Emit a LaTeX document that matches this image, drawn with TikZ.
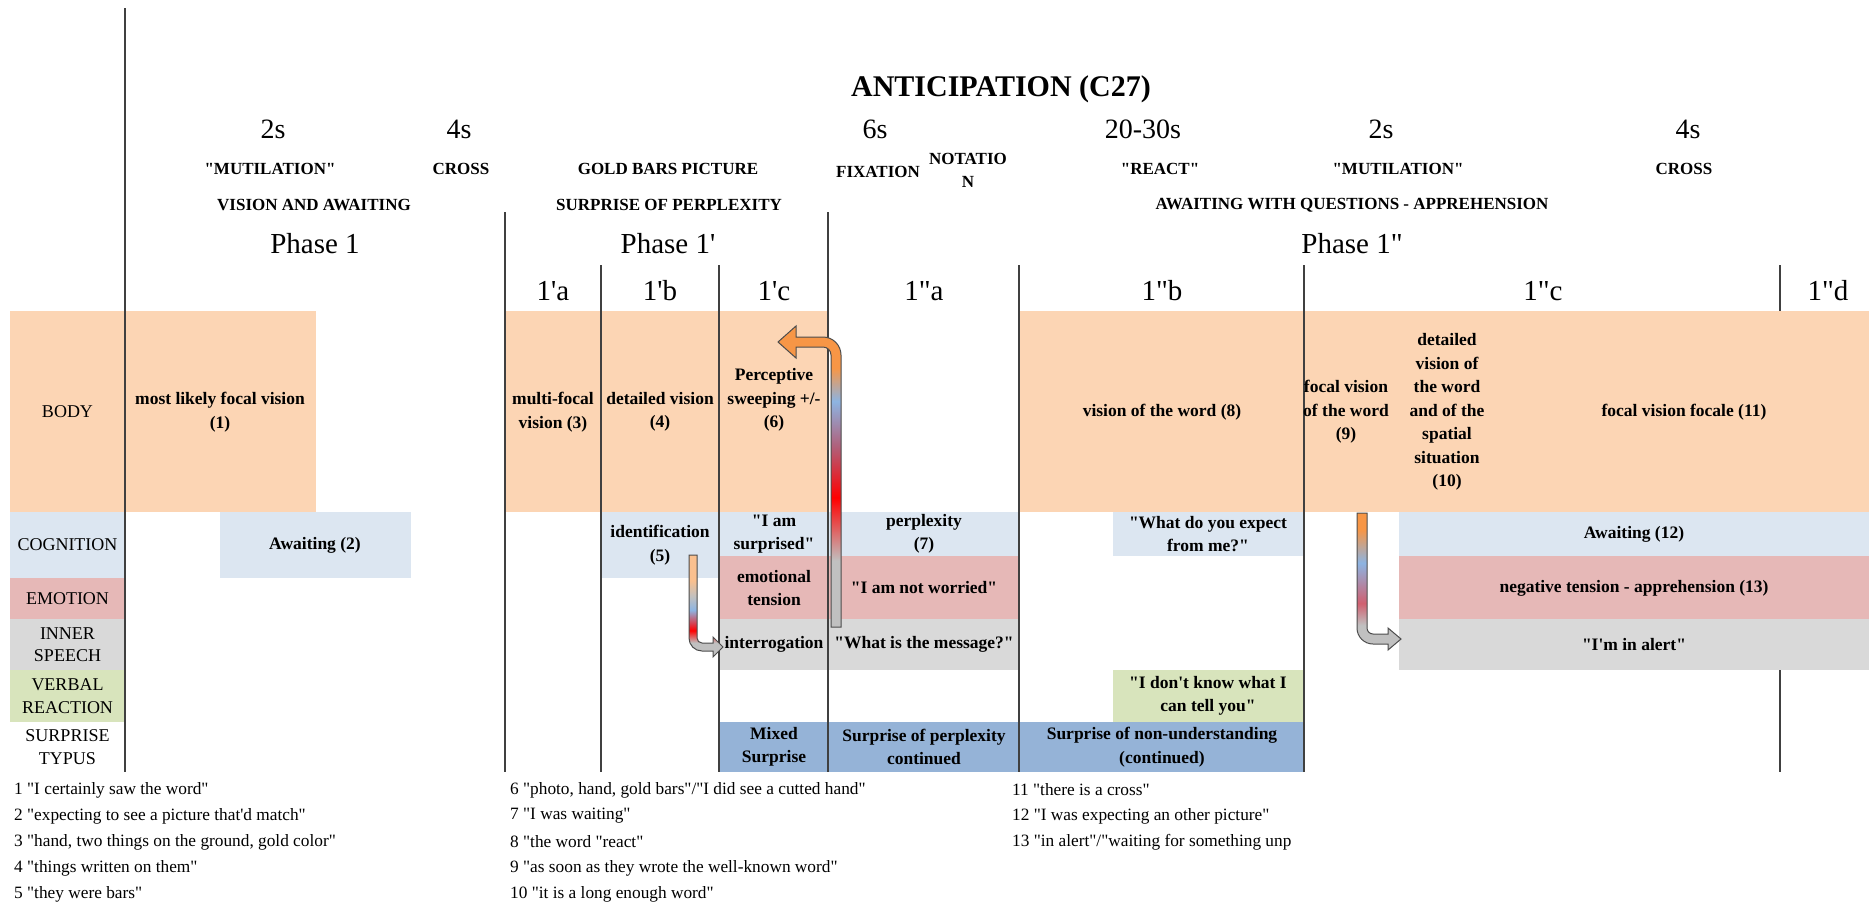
\documentclass[tikz,border=0pt]{standalone}
\usepackage{fontspec}
\setmainfont{Liberation Serif}[Ligatures=TeXOff]
\usepackage{tikz}
\usetikzlibrary{calc}
\definecolor{bodycolor}{HTML}{FCD5B4}
\definecolor{cogcolor}{HTML}{DCE6F1}
\definecolor{emocolor}{HTML}{E6B8B7}
\definecolor{speechcolor}{HTML}{D9D9D9}
\definecolor{verbcolor}{HTML}{D8E4BC}
\definecolor{typcolor}{HTML}{95B3D7}
\definecolor{gridcolor}{HTML}{404040}
\definecolor{arrorange}{HTML}{F79646}
\definecolor{arrlight}{HTML}{FAC08F}
\definecolor{arrblue}{HTML}{8DB4E2}
\definecolor{arrmauve}{HTML}{B0607A}
\definecolor{arrpink}{HTML}{D06070}
\definecolor{arrgrey}{HTML}{C0C0C0}
\pgfdeclareverticalshading{bigshaft}{100bp}{color(0bp)=(arrgrey); color(36bp)=(arrgrey); color(46.5bp)=(red); color(55bp)=(arrmauve); color(62.5bp)=(arrblue); color(68bp)=(arrorange); color(100bp)=(arrorange)}
\pgfdeclareverticalshading{smallshaft}{100bp}{color(0bp)=(arrgrey); color(32bp)=(arrgrey); color(38bp)=(red); color(48bp)=(arrblue); color(54.5bp)=(arrgrey); color(62.5bp)=(arrlight); color(100bp)=(arrlight)}
\pgfdeclareverticalshading{alertshaft}{100bp}{color(0bp)=(arrgrey); color(34bp)=(arrgrey); color(42bp)=(arrpink); color(56.75bp)=(arrblue); color(69bp)=(arrorange); color(100bp)=(arrorange)}

\begin{document}
\begin{tikzpicture}[x=1pt,y=-1pt,
    rowlabel/.style={align=center,inner sep=0pt,font=\fontsize{18}{22.5}\selectfont},
    cell/.style={align=center,inner sep=0pt,font=\bfseries\fontsize{17.5}{23.5}\selectfont},
    head/.style={align=center,inner sep=0pt,font=\bfseries\fontsize{17}{23}\selectfont},
    timelabel/.style={inner sep=0pt,font=\fontsize{28}{30}\selectfont},
    phaselabel/.style={inner sep=0pt,font=\fontsize{29}{31}\selectfont},
    note/.style={anchor=west,inner sep=0pt,font=\fontsize{17.3}{20}\selectfont},
    gridline/.style={gridcolor,line width=1.5pt},
    bentarrow/.style={draw=gray!60!black,line width=1pt}]
\useasboundingbox (0,0) rectangle (1869,906);

%% coloured cells
\fill [bodycolor] (10,311) rectangle (316,512);
\fill [bodycolor] (505,311) rectangle (828,512);
\fill [bodycolor] (1019,311) rectangle (1869,512);
\fill [cogcolor] (10,512) rectangle (125,578);
\fill [cogcolor] (220,512) rectangle (411,578);
\fill [cogcolor] (601,512) rectangle (719,578);
\fill [cogcolor] (719,512) rectangle (1019,556);
\fill [cogcolor] (1113,512) rectangle (1304,556);
\fill [cogcolor] (1399,512) rectangle (1869,556);
\fill [emocolor] (10,578) rectangle (125,619);
\fill [emocolor] (719,556) rectangle (1019,619);
\fill [emocolor] (1399,556) rectangle (1869,619);
\fill [speechcolor] (10,619) rectangle (125,670);
\fill [speechcolor] (719,619) rectangle (1019,670);
\fill [speechcolor] (1399,619) rectangle (1869,670);
\fill [verbcolor] (10,670) rectangle (125,722);
\fill [verbcolor] (1113,670) rectangle (1304,722);
\fill [typcolor] (719,722) rectangle (1304,772);

%% separators
\draw [gridline] (125,8) -- (125,772);
\foreach \x in {505,828}
    \draw [gridline] (\x,212) -- (\x,772);
\foreach \x in {601,719,1019,1304}
    \draw [gridline] (\x,265) -- (\x,772);
\draw [gridline] (1780,265) -- (1780,311);
\draw [gridline] (1780,670) -- (1780,772);

%% header
\node [inner sep=0pt,font=\bfseries\fontsize{30}{32}\selectfont] (title) at (1001,89) {ANTICIPATION (C27)};
\node [timelabel] (t1) at (273,129) {2s};
\node [timelabel] (t2) at (459,129) {4s};
\node [timelabel] (t3) at (875,129) {6s};
\node [timelabel] (t4) at (1143,129) {20-30s};
\node [timelabel] (t5) at (1381,129) {2s};
\node [timelabel] (t6) at (1688,129) {4s};
\node [head] (h1) at (270,169) {"MUTILATION"};
\node [head] (h2) at (461,169) {CROSS};
\node [head] (h3) at (668,169) {GOLD BARS PICTURE};
\node [head] (h4) at (878,172) {FIXATION};
\node [head] (h5) at (968,170) {NOTATIO\\N};
\node [head] (h6) at (1160,169) {"REACT"};
\node [head] (h7) at (1398,169) {"MUTILATION"};
\node [head] (h8) at (1684,169) {CROSS};
\node [head] (g1) at (314,205) {VISION AND AWAITING};
\node [head] (g2) at (669,205) {SURPRISE OF PERPLEXITY};
\node [head] (g3) at (1352,205) {AWAITING WITH QUESTIONS - APPREHENSION};
\node [phaselabel] (p1) at (315,244) {Phase 1};
\node [phaselabel] (p2) at (668,244) {Phase 1'};
\node [phaselabel] (p3) at (1352,244) {Phase 1"};
\node [phaselabel] (s1) at (553,291) {1'a};
\node [phaselabel] (s2) at (660,291) {1'b};
\node [phaselabel] (s3) at (774,291) {1'c};
\node [phaselabel] (s4) at (924,291) {1"a};
\node [phaselabel] (s5) at (1162,291) {1"b};
\node [phaselabel] (s6) at (1543,291) {1"c};
\node [phaselabel] (s7) at (1828,291) {1"d};

%% row labels
\node [rowlabel] (body) at (67.5,412) {BODY};
\node [rowlabel] (cognition) at (67.5,545) {COGNITION};
\node [rowlabel] (emotion) at (67.5,598.5) {EMOTION};
\node [rowlabel] (speech) at (67.5,644.5) {INNER\\SPEECH};
\node [rowlabel] (verbal) at (67.5,696) {VERBAL\\REACTION};
\node [rowlabel] (typus) at (67.5,747) {SURPRISE\\TYPUS};

%% cell texts
\node [cell] (c1) at (220,412) {most likely focal vision\\(1)};
\node [cell] (c2) at (315,545) {Awaiting (2)};
\node [cell] (c3) at (553,412) {multi-focal\\vision (3)};
\node [cell] (c4) at (660,412) {detailed vision\\(4)};
\node [cell] (c5) at (660,545) {identification\\(5)};
\node [cell] (c6) at (774,400) {Perceptive\\sweeping +/-\\(6)};
\node [cell] (surprised) at (774,534) {"I am\\surprised"};
\node [cell] (tension) at (774,588) {emotional\\tension};
\node [cell] (interrog) at (774,644.5) {interrogation};
\node [cell] (mixed) at (774,747) {Mixed\\Surprise};
\node [cell] (c7) at (924,534) {perplexity\\(7)};
\node [cell] (worried) at (924,588) {"I am not worried"};
\node [cell] (message) at (924,644.5) {"What is the message?"};
\node [cell] (perplex) at (924,747) {Surprise of perplexity\\continued};
\node [cell] (c8) at (1162,412) {vision of the word (8)};
\node [cell] (expect) at (1208,534) {"What do you expect\\from me?"};
\node [cell] (dontknow) at (1208,696) {"I don't know what I\\can tell you"};
\node [cell] (nonund) at (1162,747) {Surprise of non-understanding\\(continued)};
\node [cell] (c9) at (1346,412) {focal vision\\of the word\\(9)};
\node [cell] (c10) at (1447,412) {detailed\\vision of\\the word\\and of the\\spatial\\situation\\(10)};
\node [cell] (c11) at (1684,412) {focal vision focale (11)};
\node [cell] (c12) at (1634,534) {Awaiting (12)};
\node [cell] (c13) at (1634,588) {negative tension - apprehension (13)};
\node [cell] (alert) at (1634,644.5) {"I'm in alert"};

%% bent arrows
\shade [shading=bigshaft,bentarrow] (831,627) -- (831,355) .. controls (831,350.6) and (827.4,347) .. (823,347) -- (796,347) -- (796,358) -- (778,342) -- (796,326) -- (796,337) -- (823,337) .. controls (832.9,337) and (841,345.1) .. (841,355) -- (841,627) -- cycle;
\shade [shading=smallshaft,bentarrow] (689,555) -- (689,638) .. controls (689,645.2) and (694.8,651) .. (702,651) -- (713,651) -- (713,657) -- (723,647) -- (713,637) -- (713,643) -- (702,643) .. controls (699.2,643) and (697,640.8) .. (697,638) -- (697,555) -- cycle;
\shade [shading=alertshaft,bentarrow] (1357,513) -- (1357,628) .. controls (1357,636.8) and (1364.2,644) .. (1373,644) -- (1388,644) -- (1388,650) -- (1401,639) -- (1388,628) -- (1388,634) -- (1373,634) .. controls (1369.7,634) and (1367,631.3) .. (1367,628) -- (1367,513) -- cycle;

%% footnotes
\node [note] (fn1) at (14,790) {1 "I certainly saw the word"};
\node [note] (fn2) at (14,816) {2 "expecting to see a picture that'd match"};
\node [note] (fn3) at (14,842) {3 "hand, two things on the ground, gold color"};
\node [note] (fn4) at (14,868) {4 "things written on them"};
\node [note] (fn5) at (14,894) {5 "they were bars"};
\node [note] (fn6) at (510,790) {6 "photo, hand, gold bars"/"I did see a cutted hand"};
\node [note] (fn7) at (510,816) {7 "I was waiting"};
\node [note] (fn8) at (510,842) {8 "the word "react"};
\node [note] (fn9) at (510,868) {9 "as soon as they wrote the well-known word"};
\node [note] (fn10) at (510,894) {10 "it is a long enough word"};
\node [note] (fn11) at (1012,790) {11 "there is a cross"};
\node [note] (fn12) at (1012,816) {12 "I was expecting an other picture"};
\node [note] (fn13) at (1012,842) {13 "in alert"/"waiting for something unp};
\end{tikzpicture}
\end{document}
